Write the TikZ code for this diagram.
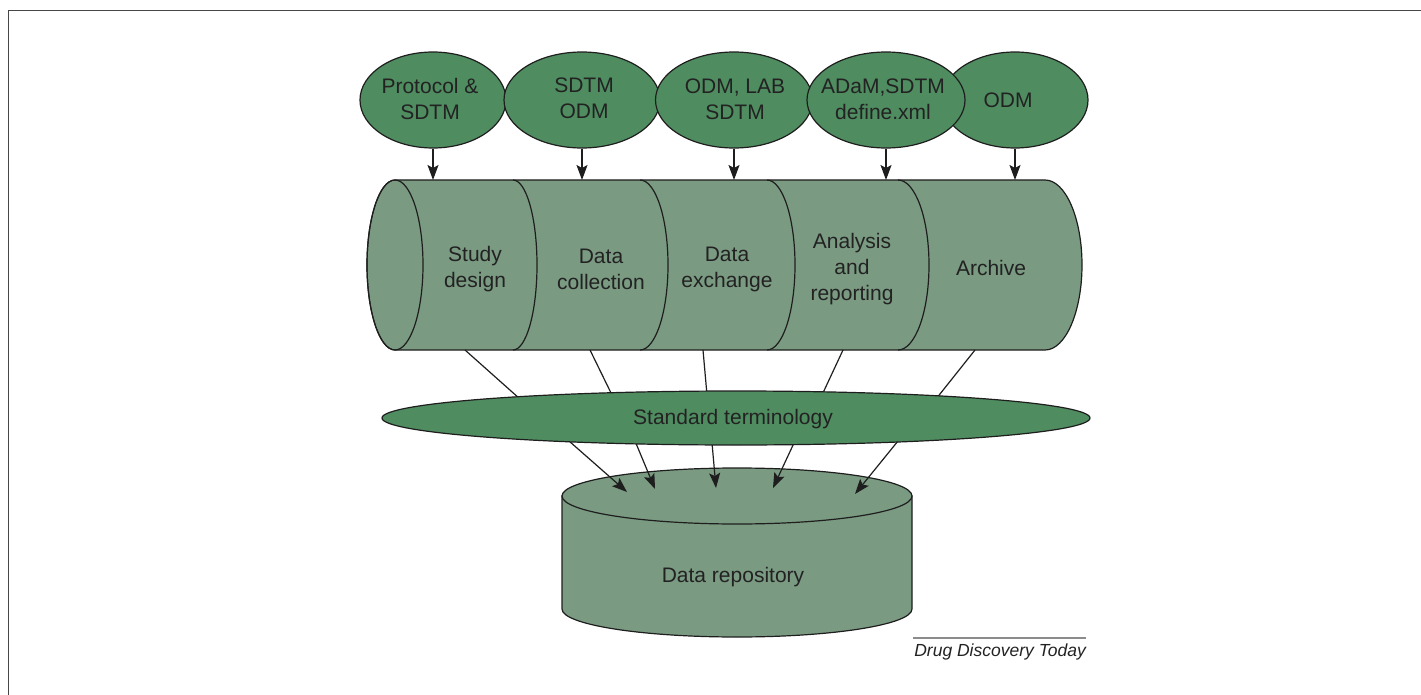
\documentclass[tikz,border=0pt]{standalone}
\usepackage{fontspec}
\setmainfont{Liberation Sans}
\usetikzlibrary{shapes.geometric,arrows.meta}
\definecolor{egreen}{HTML}{4F8C60}
\definecolor{cgreen}{HTML}{7A9A82}
\definecolor{txt}{HTML}{222222}
\definecolor{outl}{HTML}{1E1E1E}
\begin{document}
\begin{tikzpicture}[x=1pt,y=-1pt,
  lbl/.style={text=txt, font=\fontsize{21}{26}\selectfont, align=center, inner sep=0pt},
  topell/.style={ellipse, draw=outl, line width=1.2pt, fill=egreen, minimum width=#1, minimum height=96pt, inner sep=0pt},
  cylfill/.style={fill=cgreen, draw=outl, line width=1.2pt},
  edge/.style={draw=outl, line width=1.2pt},
  arr/.style={draw=outl, line width=1.2pt, -{Stealth[length=15pt,width=11pt,inset=3pt]}}
]
\useasboundingbox (0,0) rectangle (1421,695);
% frame
\draw[line width=1.6pt, color=black!72] (8.5,695) -- (8.5,10.5) -- (1421,10.5);

% ---------- top ellipses ----------
\node[topell=146pt] (e1) at (433,100) {};
\node[topell=156pt] (e2) at (582,100) {};
\node[topell=157pt] (e3) at (734,100) {};
\node[topell=146pt] (e5) at (1015,100) {};
\node[topell=158pt] (e4) at (886,100) {};
\node[lbl] (t1) at (430,98.5) {Protocol \&\\SDTM};
\node[lbl] (t2) at (584,98.5) {SDTM\\ODM};
\node[lbl] (t3) at (735,99) {ODM, LAB\\SDTM};
\node[lbl] (t4) at (883,99) {ADaM,SDTM\\define.xml};
\node[lbl] (t5) at (1008,100) {ODM};

% ---------- process cylinder ----------
\path[cylfill] (395,180) -- (1045,180)
  arc[start angle=-90,end angle=90,x radius=37,y radius=85]
  -- (395,350)
  arc[start angle=90,end angle=270,x radius=28,y radius=85] -- cycle;
\draw[edge] (395,265) ellipse[x radius=28,y radius=85];
\draw[edge] (513,180) arc[start angle=-90,end angle=90,x radius=24,y radius=85];
\draw[edge] (640,180) arc[start angle=-90,end angle=90,x radius=28,y radius=85];
\draw[edge] (767,180) arc[start angle=-90,end angle=90,x radius=28,y radius=85];
\draw[edge] (898,180) arc[start angle=-90,end angle=90,x radius=31,y radius=85];

\node[lbl] (s1) at (475,269) {Study\\design};
\node[lbl] (s2) at (601,269) {Data\\collection};
\node[lbl] (s3) at (727,269) {Data\\exchange};
\node[lbl] (s4) at (852,269) {Analysis\\and\\reporting};
\node[lbl] (s5) at (991,268) {Archive};

% arrows from the top ellipses into the cylinder
\coordinate (c1) at (e1.south |- 0,180);
\coordinate (c2) at (e2.south |- 0,180);
\coordinate (c3) at (e3.south |- 0,180);
\coordinate (c4) at (e4.south |- 0,180);
\coordinate (c5) at (e5.south |- 0,180);
\draw[arr] (e1.south) -- (c1);
\draw[arr] (e2.south) -- (c2);
\draw[arr] (e3.south) -- (c3);
\draw[arr] (e4.south) -- (c4);
\draw[arr] (e5.south) -- (c5);

% lines from the cylinder to the terminology ellipse
\coordinate (b1) at (465,350); \coordinate (u1) at (520,399);
\coordinate (b2) at (590,350); \coordinate (u2) at (612,395);
\coordinate (b3) at (703,350); \coordinate (u3) at (707,395);
\coordinate (b4) at (843,350); \coordinate (u4) at (822,395);
\coordinate (b5) at (975,350); \coordinate (u5) at (936,399);
\draw[edge] (b1) -- (u1);
\draw[edge] (b2) -- (u2);
\draw[edge] (b3) -- (u3);
\draw[edge] (b4) -- (u4);
\draw[edge] (b5) -- (u5);

% ---------- data repository ----------
\path[cylfill] (562,496) -- (562,609)
  arc[start angle=180,end angle=0,x radius=175,y radius=28]
  -- (912,496) -- cycle;
\draw[cylfill] (737,496) ellipse[x radius=175,y radius=28];
\node[lbl] (rep) at (733,577) {Data repository};

% arrows from the terminology ellipse into the repository
\coordinate (a1) at (569,441); \coordinate (r1) at (627,492);
\coordinate (a2) at (635,441); \coordinate (r2) at (655,489);
\coordinate (a3) at (712,443); \coordinate (r3) at (716,488);
\coordinate (a4) at (794,443); \coordinate (r4) at (773,488);
\coordinate (a5) at (898,441); \coordinate (r5) at (855,494);
\draw[arr] (a1) -- (r1);
\draw[arr] (a2) -- (r2);
\draw[arr] (a3) -- (r3);
\draw[arr] (a4) -- (r4);
\draw[arr] (a5) -- (r5);

% ---------- terminology ellipse ----------
\node[ellipse, draw=outl, line width=1.2pt, fill=egreen, minimum width=708pt, minimum height=54pt, inner sep=0pt] (st) at (736,418) {};
\node[lbl] (stt) at (733,419) {Standard terminology};

% ---------- caption ----------
\coordinate (capL) at (913,638);
\coordinate (capR) at (1086,638);
\draw[line width=1.1pt, color=black!45] (capL) -- (capR);
\node[anchor=north east, inner sep=0pt, text=txt, font=\fontsize{17.5}{20}\selectfont\itshape] (cap) at (1086,644) {Drug Discovery Today};
\end{tikzpicture}
\end{document}
